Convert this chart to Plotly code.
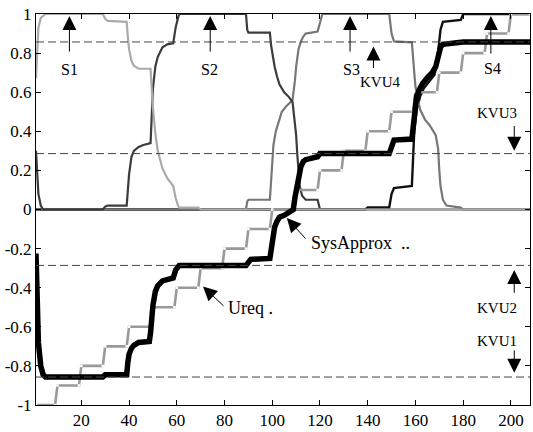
import plotly.graph_objects as go

# ---------------- data ----------------
ureq_t = [1, 9, 10, 19, 20, 29, 30, 39, 40, 49, 50, 59, 60, 69, 70, 79, 80, 89, 90, 99,
          100, 109, 110, 119, 120, 129, 130, 139, 140, 149, 150, 159, 160, 169, 170, 179,
          180, 189, 190, 199, 200, 208]
ureq_v = [-1.0, -1.0, -0.9, -0.9, -0.8, -0.8, -0.7, -0.7, -0.6, -0.6, -0.5, -0.5, -0.4, -0.4,
          -0.3, -0.3, -0.2, -0.2, -0.1, -0.1, 0.0, 0.0, 0.1, 0.1, 0.2, 0.2, 0.3, 0.3, 0.4, 0.4,
          0.5, 0.5, 0.6, 0.6, 0.7, 0.7, 0.8, 0.8, 0.9, 0.9, 1.0, 1.0]

sys_t = [1, 1.5, 2, 3, 4, 5, 29, 30, 39, 39.5, 40, 41, 42, 44, 48.5, 49, 49.5, 50, 51, 52,
         54, 56, 58.5, 59.5, 60.5, 61, 89, 90, 91, 99, 99.5, 100, 101, 102, 103, 105, 108,
         108.8, 109.5, 110, 111, 112, 113, 114, 119, 120, 149, 150, 151, 158.5, 159, 159.5,
         160.5, 161.5, 163, 165, 167, 168.5, 169.5, 170.5, 171.5, 178.9, 180, 208]
sys_v = [-0.225, -0.5, -0.68, -0.8, -0.845, -0.857, -0.857, -0.845, -0.845, -0.78, -0.74,
         -0.71, -0.695, -0.68, -0.675, -0.63, -0.55, -0.49, -0.42, -0.39, -0.365, -0.355,
         -0.35, -0.31, -0.29, -0.286, -0.286, -0.265, -0.255, -0.25, -0.2, -0.16, -0.09,
         -0.06, -0.04, -0.03, -0.01, 0.0, 0.06, 0.1, 0.18, 0.22, 0.245, 0.255, 0.27, 0.286,
         0.286, 0.33, 0.355, 0.36, 0.43, 0.51, 0.58, 0.61, 0.645, 0.675, 0.70, 0.73, 0.78,
         0.83, 0.845, 0.85, 0.857, 0.857]

s1_t = [1, 2, 3, 5, 29, 30, 31, 39, 39.5, 40, 41, 42, 44, 49, 49.5, 50, 51, 52, 54, 56,
        58.5, 59.5, 60.5, 61, 69, 70, 208]
s1_v = [0.67, 0.93, 0.98, 1.0, 1.0, 0.975, 0.965, 0.96, 0.88, 0.82, 0.76, 0.735, 0.72, 0.72,
        0.62, 0.52, 0.39, 0.3, 0.21, 0.16, 0.12, 0.06, 0.02, 0.01, 0.01, 0.0, 0.0]

s2_t = [1, 2, 3, 4, 29, 30, 31, 39, 39.5, 40, 41, 42, 44, 46, 49, 49.5, 50, 51, 52, 54, 56,
        58.5, 59.5, 60.5, 61, 89, 89.5, 90, 99, 99.5, 100, 101, 102, 103, 105, 107, 108.5,
        109, 109.5, 110, 110.5, 111, 111.5, 112.5, 114, 119, 120, 208]
s2_v = [0.3, 0.08, 0.02, 0.0, 0.0, 0.015, 0.02, 0.02, 0.1, 0.18, 0.27, 0.3, 0.32, 0.33, 0.34,
        0.5, 0.62, 0.73, 0.78, 0.83, 0.845, 0.85, 0.93, 0.98, 1.0, 1.0, 0.92, 0.905, 0.905,
        0.84, 0.8, 0.73, 0.68, 0.64, 0.6, 0.575, 0.55, 0.5, 0.44, 0.38, 0.28, 0.18, 0.12,
        0.07, 0.05, 0.05, 0.0, 0.0]

s3_t = [1, 89, 89.5, 90, 99, 99.5, 100, 100.5, 101.5, 103, 104, 106, 108.5, 109.5, 110, 111,
        112, 113, 114, 119, 120, 121, 149, 150, 151, 158.5, 159.5, 160, 161, 162, 164, 166,
        168.5, 169.5, 170, 170.5, 171.5, 173, 179, 180, 208]
s3_v = [0.0, 0.0, 0.04, 0.05, 0.05, 0.15, 0.28, 0.33, 0.4, 0.46, 0.5, 0.53, 0.56, 0.66, 0.73,
        0.82, 0.86, 0.885, 0.9, 0.91, 0.95, 1.0, 1.0, 0.9, 0.86, 0.855, 0.7, 0.63, 0.56, 0.51,
        0.46, 0.43, 0.38, 0.31, 0.2, 0.12, 0.05, 0.02, 0.01, 0.0, 0.0]

s4_t = [1, 139, 140, 149, 150, 151, 158.5, 159, 159.5, 160.5, 162, 163.5, 166, 168, 169, 170,
        170.5, 171.5, 179, 180, 208]
s4_v = [0.0, 0.0, 0.01, 0.01, 0.08, 0.11, 0.12, 0.25, 0.4, 0.51, 0.58, 0.62, 0.66, 0.69, 0.75,
        0.86, 0.92, 0.96, 0.97, 1.0, 1.0]

kvu_levels = [-0.857, -0.286, 0.286, 0.857]

x_ticks = [20, 40, 60, 80, 100, 120, 140, 160, 180, 200]
y_ticks = [-1, -0.8, -0.6, -0.4, -0.2, 0, 0.2, 0.4, 0.6, 0.8, 1]
y_ticktext = ["-1", "-0.8", "-0.6", "-0.4", "-0.2", "0", "0.2", "0.4", "0.6", "0.8", "1"]

# ---------------- figure ----------------
fig = go.Figure()

fig.add_trace(go.Scatter(x=s4_t, y=s4_v, mode="lines", line=dict(color="#111111", width=2.4)))
fig.add_trace(go.Scatter(x=s3_t, y=s3_v, mode="lines", line=dict(color="#777777", width=2.2)))
fig.add_trace(go.Scatter(x=s2_t, y=s2_v, mode="lines", line=dict(color="#3c3c3c", width=2.2)))
fig.add_trace(go.Scatter(x=s1_t, y=s1_v, mode="lines", line=dict(color="#aaaaaa", width=2.2)))
fig.add_trace(go.Scatter(x=ureq_t, y=ureq_v, mode="lines+markers",
                         line=dict(color="#999999", width=2.6),
                         marker=dict(color="white", size=2.5, symbol="square")))
fig.add_trace(go.Scatter(x=sys_t, y=sys_v, mode="lines", line=dict(color="black", width=5.5)))

for lv in kvu_levels:
    fig.add_shape(type="line", xref="paper", x0=0, x1=1, yref="y", y0=lv, y1=lv,
                  line=dict(color="#444444", width=1, dash="8px,4px"), layer="above")

SERIF = "Liberation Serif, Times New Roman, serif"
font_s = dict(family=SERIF, size=16, color="black")
font_k = dict(family=SERIF, size=15, color="black")
font_b = dict(family=SERIF, size=18, color="black")

def arrow(xh, yh, xt, yt):
    fig.add_annotation(x=xh, y=yh, ax=xt, ay=yt, xref="x", yref="y", axref="x", ayref="y",
                       text="", showarrow=True, arrowhead=2, arrowsize=2.8, arrowwidth=1,
                       arrowcolor="black")

def label(x, y, txt, font):
    fig.add_annotation(x=x, y=y, xref="x", yref="y", text=txt, showarrow=False, font=font)

# S labels
arrow(15, 0.99, 15, 0.80); label(15, 0.716, "S1", font_s)
arrow(74, 0.99, 74, 0.80); label(73.5, 0.716, "S2", font_s)
arrow(132.6, 0.99, 132.6, 0.80); label(133.3, 0.716, "S3", font_s)
arrow(191.6, 0.99, 191.6, 0.79); label(192.3, 0.72, "S4", font_s)
arrow(142.4, 0.834, 142.4, 0.716); label(145.2, 0.65, "KVU4", font_k)
label(194, 0.495, "KVU3", font_k); arrow(201.4, 0.30, 201.4, 0.435)
label(194, -0.505, "KVU2", font_k); arrow(201.4, -0.31, 201.4, -0.434)
label(194, -0.672, "KVU1", font_k); arrow(201.4, -0.835, 201.4, -0.713)
arrow(106.1, -0.044, 114.5, -0.156)
fig.add_annotation(x=115.5, y=-0.172, xref="x", yref="y", text="SysApprox  ..",
                   showarrow=False, font=font_b, xanchor="left")
arrow(71, -0.394, 80.2, -0.5)
fig.add_annotation(x=80.8, y=-0.505, xref="x", yref="y", text="Ureq .",
                   showarrow=False, font=font_b, xanchor="left")

axis_common = dict(showgrid=False, zeroline=False, showline=True, linecolor="black",
                   linewidth=1, ticks="inside", ticklen=5, tickcolor="black",
                   mirror="ticks", tickfont=dict(family=SERIF, size=17, color="black"))

fig.update_layout(
    width=533, height=432,
    margin=dict(l=36, r=2, t=14, b=23),
    paper_bgcolor="white", plot_bgcolor="white",
    showlegend=False,
    xaxis=dict(range=[1, 208], tickvals=x_ticks, **axis_common),
    yaxis=dict(range=[-1, 1], tickvals=y_ticks, ticktext=y_ticktext, **axis_common),
)

fig.write_html("out.html")
